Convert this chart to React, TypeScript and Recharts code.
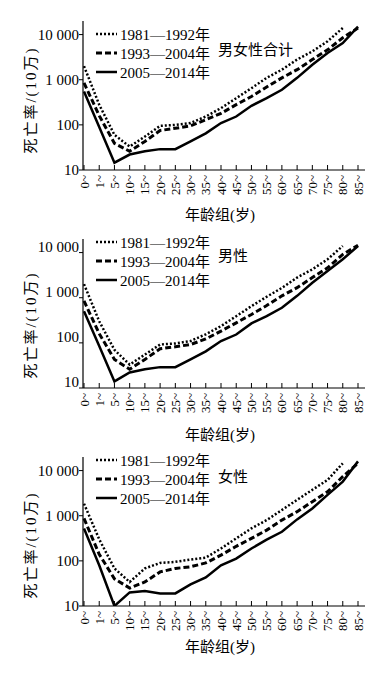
import React from 'react';
import { LineChart, Line, XAxis, YAxis, Legend } from 'recharts';

const FONT = "'Liberation Serif', 'Noto Sans CJK SC', serif";

const ageGroups = ['0~', '1~', '5~', '10~', '15~', '20~', '25~', '30~', '35~', '40~', '45~', '50~', '55~', '60~', '65~', '70~', '75~', '80~', '85~'];
const yTicks = [10, 100, 1000, 10000];
const yTickLabels = ['10', '100', '1 000', '10 000'];
const seriesNames = ['1981—1992年', '1993—2004年', '2005—2014年'];
const panelTitles = ['男女性合计', '男性', '女性'];
const yTitle = '死亡率/(10万)';
const xTitle = '年龄组(岁)';

// 男女性合计
const total1981 = [2000, 280, 60, 33, 55, 95, 100, 110, 153, 235, 390, 650, 1100, 1670, 2800, 4250, 7100, 14000, null];
const total1993 = [850, 160, 39, 26, 43, 75, 84, 95, 130, 180, 280, 425, 690, 1100, 1670, 2800, 4600, 8500, 14000];
const total2005 = [550, 90, 14.5, 22, 26, 29, 29, 43, 65, 110, 153, 265, 390, 600, 1100, 2150, 3900, 6500, 15000];
// 男性
const male1981 = [2000, 300, 70, 33, 55, 92, 97, 110, 155, 235, 390, 650, 1050, 1650, 2800, 4250, 7100, 14000, null];
const male1993 = [850, 160, 43, 26, 43, 74, 82, 92, 122, 182, 278, 425, 670, 1100, 1670, 2800, 4600, 9100, 14500];
const male2005 = [500, 85, 14, 22, 26, 29, 29, 43, 65, 110, 153, 270, 390, 600, 1100, 2150, 3900, 7100, 14000];
// 女性
const female1981 = [1850, 300, 68, 34, 68, 90, 95, 107, 118, 188, 315, 525, 800, 1340, 2250, 3750, 6200, 14500, null];
const female1993 = [870, 140, 40, 25, 34, 57, 68, 74, 90, 134, 210, 315, 480, 800, 1230, 2050, 3400, 7400, 14500];
const female2005 = [520, 80, 10, 20, 21.5, 19, 19, 30, 43, 80, 112, 188, 295, 440, 830, 1450, 2900, 5700, 16000];

const lineStyles = [
  { key: 's1', width: 2.5, dash: '2 2' },
  { key: 's2', width: 3, dash: '6 3' },
  { key: 's3', width: 2.5, dash: undefined as string | undefined },
];

const buildRows = (a: (number | null)[], b: (number | null)[], c: (number | null)[]) =>
  ageGroups.map((age, i) => ({ age, s1: a[i], s2: b[i], s3: c[i] }));

const panels = [
  { top: 0, mt: 21, rows: buildRows(total1981, total1993, total2005), title: panelTitles[0], legendTop: 24, titleTop: 41, yLabelDy: 0, yTitleY: 100, xTitleDy: 45 },
  { top: 220, mt: 19, rows: buildRows(male1981, male1993, male2005), title: panelTitles[1], legendTop: 12, titleTop: 27, yLabelDy: -6, yTitleY: 105, xTitleDy: 47 },
  { top: 440, mt: 17, rows: buildRows(female1981, female1993, female2005), title: panelTitles[2], legendTop: 10, titleTop: 28, yLabelDy: 0, yTitleY: 105, xTitleDy: 41 },
];

const PLOT_H = 149;
const XAXIS_H = 55;

const XTick = (props: any) => {
  const { x, y, payload } = props;
  return (
    <g>
      <line x1={x} y1={y} x2={x} y2={y - 5} stroke="#000" strokeWidth={1} />
      <text x={x} y={y + 5} transform={`rotate(-90 ${x} ${y + 5})`} textAnchor="end" dominantBaseline="central" fontSize={13} fontFamily={FONT} fill="#000">
        {payload.value}
      </text>
    </g>
  );
};

const makeYTick = (dy: number) => (props: any) => {
  const { x, y, payload } = props;
  const idx = yTicks.indexOf(payload.value);
  return (
    <text x={x} y={y + dy} textAnchor="end" dominantBaseline="central" fontSize={15} fontFamily={FONT} fill="#000">
      {idx >= 0 ? yTickLabels[idx] : payload.value}
    </text>
  );
};

const LegendContent = () => (
  <div style={{ fontFamily: FONT, fontSize: 15, color: '#000' }}>
    {seriesNames.map((name, i) => (
      <div key={name} style={{ display: 'flex', alignItems: 'center', height: 19, whiteSpace: 'nowrap' }}>
        <svg width={21} height={8} style={{ display: 'block' }}>
          <line x1={0} y1={4} x2={21} y2={4} stroke="#000" strokeWidth={lineStyles[i].width} strokeDasharray={lineStyles[i].dash} />
        </svg>
        <span style={{ marginLeft: 3 }}>{name}</span>
      </div>
    ))}
  </div>
);

const Panel = ({ p }: { p: typeof panels[number] }) => {
  const height = p.mt + PLOT_H + XAXIS_H;
  return (
    <div style={{ position: 'absolute', left: 0, top: p.top, width: 390, height }}>
      <LineChart width={390} height={height} data={p.rows} margin={{ top: p.mt, right: 25, left: 0, bottom: 0 }}>
        <XAxis
          dataKey="age"
          type="category"
          interval={0}
          padding={{ left: 1, right: 7 }}
          height={XAXIS_H}
          tickSize={0}
          tickMargin={0}
          tickLine={false}
          tick={<XTick />}
          axisLine={{ stroke: '#000', strokeWidth: 1.2 }}
          label={{
            content: () => (
              <text x={220} y={p.mt + PLOT_H + p.xTitleDy} textAnchor="middle" dominantBaseline="central" fontSize={15} fontFamily={FONT} fill="#000">
                {xTitle}
              </text>
            ),
          }}
        />
        <YAxis
          type="number"
          scale="log"
          domain={[10, 20000]}
          allowDataOverflow
          ticks={yTicks}
          width={83}
          tickSize={4}
          tickMargin={0}
          tick={makeYTick(p.yLabelDy)}
          tickLine={{ stroke: '#000' }}
          axisLine={{ stroke: '#000', strokeWidth: 1.2 }}
          label={{
            content: () => (
              <text x={31} y={p.yTitleY} transform={`rotate(-90 31 ${p.yTitleY})`} textAnchor="middle" dominantBaseline="central" fontSize={15} letterSpacing={2} fontFamily={FONT} fill="#000">
                {yTitle}
              </text>
            ),
          }}
        />
        <Legend
          layout="vertical"
          align="center"
          verticalAlign="middle"
          content={<LegendContent />}
          wrapperStyle={{ left: 96, top: p.legendTop, width: 130 }}
        />
        {lineStyles.map((s, i) => (
          <Line
            key={s.key}
            dataKey={s.key}
            name={seriesNames[i]}
            stroke="#000"
            strokeWidth={s.width}
            strokeDasharray={s.dash}
            dot={false}
            activeDot={false}
            isAnimationActive={false}
            type="linear"
          />
        ))}
      </LineChart>
      <div style={{ position: 'absolute', left: 218, top: p.titleTop, fontFamily: FONT, fontSize: 15, lineHeight: '18px', whiteSpace: 'nowrap', color: '#000' }}>
        {p.title}
      </div>
    </div>
  );
};

export default function App() {
  return (
    <div style={{ position: 'absolute', left: 0, top: 0, width: 390, height: 674, background: '#fff', overflow: 'hidden' }}>
      {panels.map((p, i) => (
        <Panel key={i} p={p} />
      ))}
    </div>
  );
}
